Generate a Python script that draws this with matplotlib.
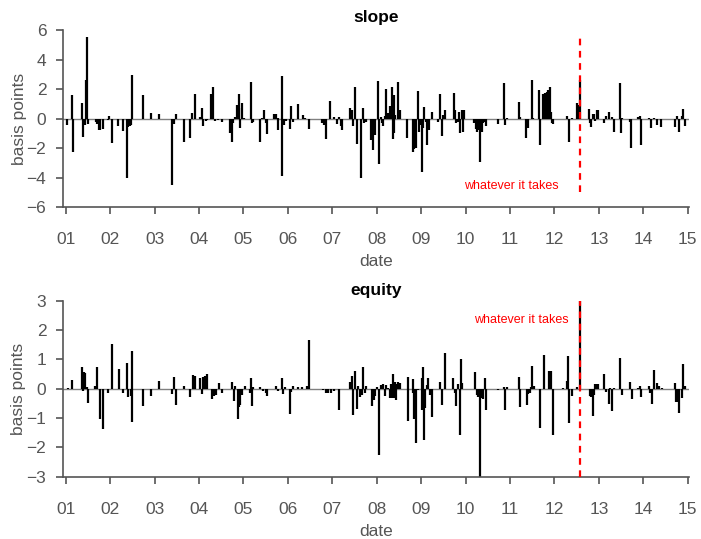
import numpy as np
import matplotlib
matplotlib.use("Agg")
import matplotlib.pyplot as plt

plt.rcParams['font.family'] = ['Liberation Sans', 'DejaVu Sans']

# event-day changes, x in decimal years
slope_dates = [2001.03, 2001.135, 2001.16, 2001.37, 2001.38, 2001.44, 2001.46, 2001.49, 2001.51,
               2001.68, 2001.71, 2001.74, 2001.77, 2001.84, 2001.95, 2001.98, 2002.04, 2002.18,
               2002.28, 2002.37, 2002.41, 2002.44, 2002.46, 2002.49, 2002.75, 2002.91, 2003.11,
               2003.40, 2003.43, 2003.48, 2003.67, 2003.79, 2003.85, 2003.90, 2004.02, 2004.06,
               2004.10, 2004.15, 2004.18, 2004.28, 2004.31, 2004.35, 2004.43, 2004.51, 2004.69,
               2004.74, 2004.77, 2004.82, 2004.86, 2004.89, 2004.91, 2004.93, 2004.96, 2005.02,
               2005.17, 2005.19, 2005.22, 2005.38, 2005.41, 2005.47, 2005.50, 2005.53, 2005.69,
               2005.73, 2005.77, 2005.79, 2005.86, 2005.88, 2005.91, 2005.95, 2006.04, 2006.08,
               2006.12, 2006.24, 2006.35, 2006.39, 2006.48, 2006.77, 2006.82, 2006.86, 2006.96,
               2007.03, 2007.11, 2007.15, 2007.19, 2007.22, 2007.41, 2007.44, 2007.46, 2007.52,
               2007.55, 2007.65, 2007.69, 2007.72, 2007.75, 2007.88, 2007.92, 2007.96, 2008.03,
               2008.05, 2008.10, 2008.13, 2008.15, 2008.185, 2008.22, 2008.26, 2008.30, 2008.32,
               2008.34, 2008.36, 2008.37, 2008.39, 2008.40, 2008.42, 2008.49, 2008.52, 2008.69,
               2008.81, 2008.85, 2008.88, 2008.92, 2008.95, 2008.98, 2009.02, 2009.04, 2009.07,
               2009.10, 2009.14, 2009.17, 2009.24, 2009.39, 2009.42, 2009.46, 2009.50, 2009.53,
               2009.73, 2009.76, 2009.79, 2009.82, 2009.85, 2009.88, 2009.91, 2009.94, 2009.96,
               2010.20, 2010.23, 2010.26, 2010.29, 2010.32, 2010.36, 2010.40, 2010.44, 2010.47,
               2010.74, 2010.87, 2010.89, 2010.93, 2011.20, 2011.23, 2011.36, 2011.41, 2011.49,
               2011.51, 2011.65, 2011.68, 2011.75, 2011.79, 2011.83, 2011.86, 2011.90, 2011.93,
               2011.94, 2011.96, 2012.20, 2012.29, 2012.32, 2012.39, 2012.52, 2012.55, 2012.57,
               2012.77, 2012.80, 2012.83, 2012.86, 2012.89, 2012.92, 2012.95, 2012.98, 2013.12,
               2013.16, 2013.22, 2013.29, 2013.34, 2013.48, 2013.49, 2013.52, 2013.70, 2013.73,
               2013.89, 2013.93, 2013.95, 2014.12, 2014.18, 2014.24, 2014.32, 2014.39, 2014.72,
               2014.77, 2014.80, 2014.87, 2014.90, 2014.93]
slope_vals = [-0.43, 1.62, -2.26, 1.07, -1.28, -0.43, 2.65, 5.55, -0.37,
              -0.2, -0.4, -0.8, -0.75, -0.7, -0.1, 0.2, -1.69, -0.48,
              -0.85, -4.0, -0.55, -0.5, -0.45, 2.97, 1.62, 0.39, 0.32,
              -4.54, -0.36, 0.34, -1.58, -1.32, 0.37, 1.69, 0.14, 0.71,
              -0.48, -0.16, -0.1, 1.69, 2.17, -0.16, -0.1, -0.23, -0.96,
              -1.58, -0.27, 0.1, 0.89, 0.71, 1.67, -0.62, 1.05, 0.07,
              2.47, -0.27, -0.2, -1.58, 0.05, 0.57, -0.32, -1.07, 0.3,
              0.34, -0.75, 0.07, 2.92, -3.93, -0.43, -0.16, -0.71, 0.87,
              -0.2, 0.98, 0.25, 0.05, -0.71, -0.32, -0.43, -1.39, 1.16,
              0.14, -0.37, 0.14, -0.48, -0.8, 0.71, 0.59, -0.48, 2.17,
              -1.74, -4.04, 0.71, -0.3, -0.2, -1.46, -2.15, -1.12, 2.53,
              -3.08, 0.14, -0.32, -0.5, 0.2, 2.0, 0.36, 0.87, 0.75,
              2.15, -1.39, 0.6, 1.62, -1.0, 0.25, 2.51, 0.59, -1.3,
              -2.26, -2.08, -1.99, 1.89, -0.89, -0.43, -3.63, -0.66, 0.78,
              -0.2, -1.8, -0.78, 0.48, -0.2, 1.67, -1.16, 0.25, 0.57,
              1.74, 0.57, -0.32, -0.2, 0.48, -1.0, 0.59, -0.89, 0.59,
              -0.32, -0.71, -0.89, -0.75, -2.95, -0.94, -0.32, -0.2, -0.48,
              -0.37, 2.42, -0.43, 0.07, 1.12, 0.14, -1.35, -0.66, 2.6,
              0.07, 1.96, -1.76, 1.69, 1.76, 1.8, 1.94, 2.17, 0.43,
              -0.32, -0.37, -0.05, 0.18, -1.58, 0.02, 1.03, 0.89, 2.65,
              0.64, -0.27, -0.55, 0.3, 0.34, -0.16, 0.57, 0.55, -0.32,
              0.2, 0.48, 0.14, -0.94, 2.42, -1.0, 0.07, -0.2, -1.99,
              0.14, 0.2, -1.8, 0.07, -0.66, 0.07, -0.43, -0.57, -0.57,
              0.2, -0.94, 0.18, 0.64, -0.48]

equity_dates = [2001.05, 2001.15, 2001.37, 2001.38, 2001.41, 2001.44, 2001.47, 2001.50, 2001.67,
                2001.71, 2001.77, 2001.85, 2001.95, 2002.04, 2002.19, 2002.28, 2002.37, 2002.41,
                2002.48, 2002.49, 2002.50, 2002.75, 2002.91, 2003.11, 2003.39, 2003.43, 2003.48,
                2003.67, 2003.79, 2003.87, 2003.90, 2004.02, 2004.06, 2004.10, 2004.14, 2004.17,
                2004.29, 2004.33, 2004.36, 2004.39, 2004.46, 2004.51, 2004.74, 2004.78, 2004.82,
                2004.87, 2004.90, 2004.93, 2004.96, 2005.03, 2005.14, 2005.18, 2005.19, 2005.22,
                2005.38, 2005.44, 2005.50, 2005.53, 2005.74, 2005.79, 2005.86, 2005.89, 2005.93,
                2006.05, 2006.07, 2006.12, 2006.23, 2006.33, 2006.44, 2006.47, 2006.80, 2006.85,
                2006.91, 2006.97, 2007.04, 2007.15, 2007.41, 2007.44, 2007.47, 2007.51, 2007.55,
                2007.58, 2007.63, 2007.66, 2007.70, 2007.73, 2007.77, 2007.89, 2007.93, 2007.96,
                2008.00, 2008.06, 2008.10, 2008.15, 2008.18, 2008.22, 2008.26, 2008.30, 2008.33,
                2008.335, 2008.36, 2008.39, 2008.42, 2008.43, 2008.45, 2008.49, 2008.52, 2008.70,
                2008.71, 2008.81, 2008.82, 2008.85, 2008.89, 2008.93, 2009.01, 2009.02, 2009.05,
                2009.06, 2009.09, 2009.13, 2009.16, 2009.20, 2009.24, 2009.42, 2009.46, 2009.53,
                2009.72, 2009.76, 2009.79, 2009.84, 2009.87, 2009.90, 2009.93, 2010.21, 2010.25,
                2010.29, 2010.32, 2010.36, 2010.40, 2010.44, 2010.47, 2010.74, 2010.87, 2010.89,
                2010.93, 2011.21, 2011.22, 2011.38, 2011.41, 2011.44, 2011.47, 2011.50, 2011.53,
                2011.68, 2011.76, 2011.87, 2011.90, 2011.93, 2011.97, 2012.20, 2012.28, 2012.31,
                2012.32, 2012.39, 2012.52, 2012.57, 2012.80, 2012.83, 2012.86, 2012.89, 2012.92,
                2012.95, 2012.98, 2013.12, 2013.16, 2013.22, 2013.25, 2013.29, 2013.34, 2013.48,
                2013.52, 2013.70, 2013.74, 2013.89, 2013.93, 2013.95, 2014.12, 2014.15, 2014.19,
                2014.24, 2014.30, 2014.35, 2014.42, 2014.72, 2014.73, 2014.76, 2014.80, 2014.87,
                2014.90, 2014.93]
equity_vals = [0.03, 0.29, 0.75, -0.08, 0.56, 0.53, 0.06, -0.48, 0.1,
               0.74, -1.02, -1.38, -0.16, 1.51, 0.66, -0.16, 0.86, -0.27,
               -0.25, 1.27, -1.13, -0.59, -0.24, 0.27, -0.18, 0.4, -0.56,
               0.08, -0.3, 0.47, 0.42, 0.35, -0.18, 0.41, 0.45, 0.49,
               -0.35, -0.26, -0.23, -0.2, 0.2, -0.16, 0.24, -0.41, 0.1,
               -1.02, -0.62, -0.56, -0.22, 0.08, -0.13, 0.35, -0.58, 0.05,
               0.05, -0.09, -0.13, -0.25, 0.08, -0.08, 0.35, -0.18, 0.05,
               -0.87, -0.1, 0.08, 0.06, 0.05, 0.1, 1.65, -0.06, -0.14,
               -0.14, -0.13, -0.08, -0.71, 0.22, 0.42, -0.9, 0.62, -0.7,
               0.1, -0.27, -0.22, 0.73, -0.16, 0.09, -0.58, -0.39, -0.25,
               0.07, -2.25, 0.13, 0.15, -0.24, 0.13, 0.03, -0.31, 0.15,
               -0.33, 0.49, -0.33, 0.22, -0.37, 0.15, 0.24, 0.19, 0.39,
               -1.11, 0.33, -0.14, -1.05, -1.85, -0.05, 0.35, -0.73, 0.73,
               -1.74, -0.67, 0.13, 0.35, -0.22, -0.96, 0.24, -0.54, 1.21,
               0.38, -0.16, -0.58, 0.16, -1.58, 1.0, 0.18, 0.56, -0.22,
               -0.3, -3.2, -0.31, -0.34, 0.35, -0.73, -0.03, 0.07, -0.73,
               0.06, 0.41, -0.62, -0.56, -0.19, -0.13, 0.06, 0.77, 0.1,
               -1.33, 1.15, 0.61, 0.27, 0.61, -1.57, 0.03, 0.27, 1.1,
               -1.18, -0.24, 0.05, 3.2, -0.24, -0.27, -0.94, -0.22, 0.15,
               0.15, 0.15, 0.49, -0.1, -0.53, 0.01, -0.77, 0.03, 1.06,
               -0.22, 0.22, -0.35, 0.03, 0.1, -0.3, 0.1, -0.16, -0.53,
               0.64, 0.18, 0.1, 0.03, 0.2, -0.45, -0.47, -0.82, -0.31,
               0.83, 0.1]

event_date = 2012.57
event_label = "whatever it takes"
years = list(range(2001, 2016))
year_labels = ["%02d" % (y % 100) for y in years]

grey = "#555555"

fig = plt.figure(figsize=(7.01, 5.39), dpi=100)
ax1 = fig.add_axes([0.0899, 0.616, 0.893, 0.328])
ax2 = fig.add_axes([0.0899, 0.1156, 0.893, 0.3265])


def style(ax, ylim, yticks):
    ax.set_xlim(2000.94, 2015.03)
    ax.set_ylim(*ylim)
    ax.set_yticks(yticks)
    ax.set_xticks(years)
    ax.set_xticklabels(year_labels)
    ax.axhline(0, color="#808080", lw=1.0, zorder=1)
    for s in ["top", "right"]:
        ax.spines[s].set_visible(False)
    for s in ["left", "bottom"]:
        ax.spines[s].set_color(grey)
        ax.spines[s].set_linewidth(1.2)
    ax.tick_params(direction="out", length=5, width=1.2, colors=grey,
                   labelsize=12.5, pad=7)
    ax.tick_params(axis="x", pad=13)
    ax.set_xlabel("date", fontsize=12.5, color=grey, labelpad=5)
    ax.set_ylabel("basis points", fontsize=12.5, color=grey, labelpad=0)


# slope
style(ax1, (-6, 6), [-6, -4, -2, 0, 2, 4, 6])
ax1.vlines(slope_dates, 0, slope_vals, color="black", lw=1.6, zorder=2)
ax1.vlines(event_date, -5.0, 5.5, color="red", lw=1.6, linestyles=(0, (3, 2.5)), zorder=3)
ax1.text(event_date - 0.48, -4.55, event_label, color="red", fontsize=9,
         ha="right", va="center")
ax1.set_title("slope", fontsize=12.5, fontweight="bold", pad=6)

# equity
style(ax2, (-3, 3), [-3, -2, -1, 0, 1, 2, 3])
ax2.vlines(equity_dates, 0, equity_vals, color="black", lw=1.6, zorder=2)
ax2.vlines(event_date, -3, 3, color="red", lw=1.6, linestyles=(0, (3, 2.5)), zorder=3)
ax2.text(event_date - 0.24, 2.34, event_label, color="red", fontsize=9,
         ha="right", va="center")
ax2.set_title("equity", fontsize=12.5, fontweight="bold", pad=4)

fig.savefig("out.png", dpi=100)
